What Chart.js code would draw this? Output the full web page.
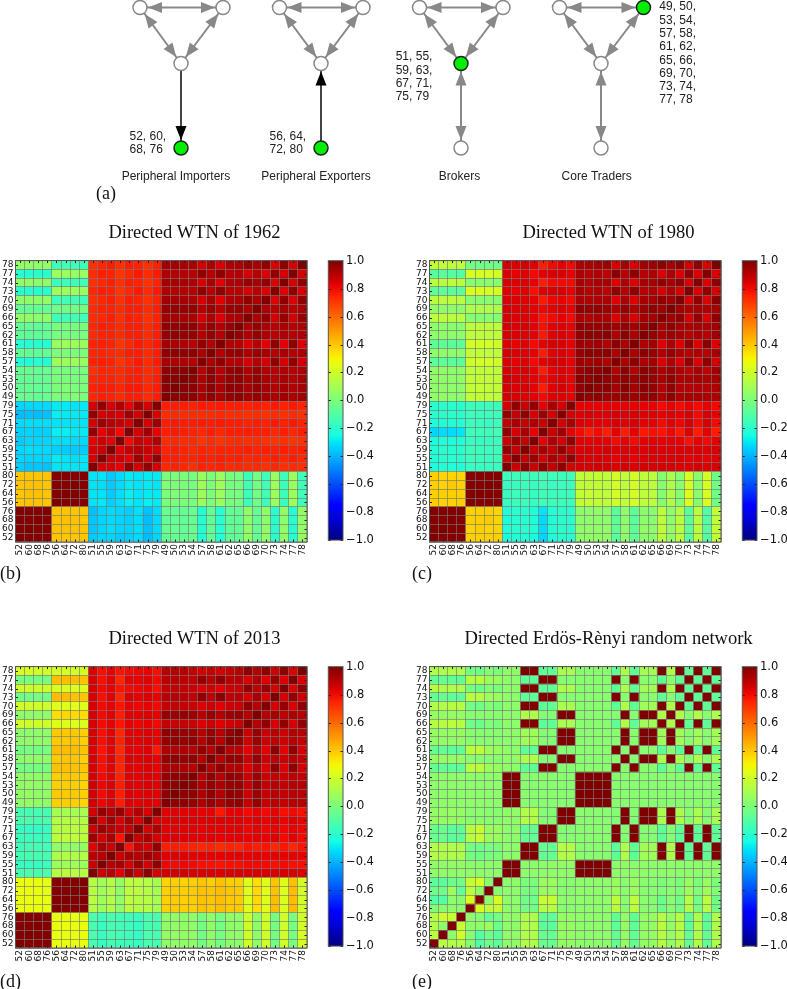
<!DOCTYPE html>
<html>
<head>
<meta charset="utf-8">
<title>Directed WTN</title>
<script src="https://cdn.jsdelivr.net/npm/chart.js@4/dist/chart.umd.min.js"></script>
<style>
html, body { margin: 0; padding: 0; background: #fff; overflow: hidden; width: 787px; height: 989px; }
canvas { position: absolute; filter: blur(0.35px); }
.tag { position: absolute; font: 18px "Liberation Serif", serif; color: #111; line-height: 20px; }
</style>
</head>
<body>
<canvas id="motifs" width="787" height="200" style="left:0px;top:0px"></canvas>

<canvas id="heat1962" width="389" height="345" style="left:0px;top:222px"></canvas>
<canvas id="bar1962" width="70" height="300" style="left:320px;top:250px"></canvas>
<canvas id="heat1980" width="389" height="345" style="left:413.5px;top:222px"></canvas>
<canvas id="bar1980" width="70" height="300" style="left:734px;top:250px"></canvas>
<canvas id="heat2013" width="389" height="345" style="left:0px;top:628px"></canvas>
<canvas id="bar2013" width="70" height="300" style="left:320px;top:656px"></canvas>
<canvas id="heatRandom" width="389" height="345" style="left:413.5px;top:628px"></canvas>
<canvas id="barRandom" width="70" height="300" style="left:734px;top:656px"></canvas>

<div class="tag" style="left:96px;top:183px">(a)</div>
<div class="tag" style="left:0px;top:563px">(b)</div>
<div class="tag" style="left:412px;top:563px">(c)</div>
<div class="tag" style="left:0px;top:971px">(d)</div>
<div class="tag" style="left:412px;top:971px">(e)</div>

<script>
// column order, bottom row first
const motifLabels = ["52","60","68","76","56","64","72","80",
    "51","55","59","63","67","71","75","79",
    "49","50","53","54","57","58","61","62","65","66","69","70","73","74","77","78"];

const colorbarTicks = [-1, -0.8, -0.6, -0.4, -0.2, 0, 0.2, 0.4, 0.6, 0.8, 1];

// upper triangles in hundredths, each row starts at its diagonal cell
const wtn1962 = [
    [100,99,99,99, 40,40,40,40, -35,-33,-33,-35,-34,-32,-38,-33, -5,-6,-6,-5,-22,-6,-21,-7,-6,5,-6,5,-20,5,-21,6],
    [100,99,99, 41,41,41,40, -36,-33,-31,-33,-33,-31,-37,-32, -5,-5,-6,-5,-22,-6,-21,-7,-6,5,-6,5,-20,5,-21,6],
    [100,99, 41,41,41,40, -36,-33,-32,-33,-34,-31,-38,-32, -6,-6,-6,-6,-21,-7,-20,-7,-7,4,-6,4,-20,4,-20,5],
    [100, 40,40,40,40, -37,-33,-32,-33,-34,-31,-37,-32, -5,-6,-6,-5,-22,-6,-21,-6,-6,5,-6,5,-20,5,-21,6],
    [100,99,99,99, -30,-29,-34,-31,-28,-30,-28,-29, 0,0,0,-1,8,0,7,-1,-1,-15,-3,-15,8,-16,8,-15],
    [100,99,99, -30,-30,-35,-31,-28,-30,-29,-29, 0,1,0,-1,8,0,8,-1,-1,-15,-2,-14,8,-15,8,-14],
    [100,99, -30,-31,-35,-32,-29,-30,-29,-30, 1,0,0,-1,8,0,8,-1,-1,-14,-2,-14,8,-15,7,-15],
    [100, -30,-30,-35,-32,-29,-30,-29,-29, 0,0,0,-1,7,0,7,-1,-1,-15,-2,-15,7,-15,7,-15],
    [100,85,85,82,97,85,97,85, 74,75,74,72,75,74,75,73,74,73,73,72,74,72,73,72],
    [100,87,87,82,95,85,97, 76,76,75,75,76,75,76,75,76,74,75,74,76,74,76,74],
    [100,83,88,90,87,85, 75,76,75,74,75,74,75,75,75,76,75,76,75,76,75,76],
    [100,80,88,85,92, 73,74,73,73,71,73,71,73,73,72,73,72,71,72,71,72],
    [100,85,95,82, 76,77,76,75,74,76,74,76,76,76,76,76,74,76,74,76],
    [100,85,95, 76,77,76,76,77,76,77,76,76,75,76,75,77,75,77,75],
    [100,85, 73,74,73,73,73,73,74,73,73,72,73,72,73,72,73,72],
    [100, 76,76,76,75,77,76,77,76,76,75,76,75,77,75,77,75],
    [100,98,98,97,93,97,93,96,97,94,96,94,92,94,92,94],
    [100,98,97,92,97,92,97,96,93,96,93,91,93,91,93],
    [100,98,92,97,92,96,97,93,96,93,91,93,91,93],
    [100,90,97,90,96,97,92,96,92,90,92,90,92],
    [100,92,97,91,91,85,91,85,97,85,97,85],
    [100,91,96,96,92,95,93,90,93,90,92],
    [100,91,91,84,90,83,97,83,97,84],
    [100,96,92,96,92,90,92,90,92],
    [100,92,96,92,90,92,91,92],
    [100,92,97,85,96,85,96],
    [100,92,90,93,90,92],
    [100,84,97,84,97],
    [100,84,97,84],
    [100,85,97],
    [100,85],
    [100]
];

const wtn1980 = [
    [100,99,99,99, 38,38,38,38, -24,-22,-22,-24,-33,-23,-20,-21, 5,5,5,5,-8,5,-7,4,4,16,5,15,-8,15,-10,17],
    [100,99,99, 37,38,37,37, -22,-21,-20,-22,-32,-22,-19,-20, 5,5,5,5,-7,5,-7,5,4,16,5,15,-7,15,-9,17],
    [100,99, 38,38,39,37, -23,-21,-21,-23,-32,-22,-20,-20, 4,4,4,4,-8,4,-8,4,3,15,4,15,-8,15,-10,16],
    [100, 38,38,38,37, -22,-20,-20,-22,-30,-21,-19,-20, 4,4,5,4,-8,4,-7,4,3,15,4,14,-8,15,-10,16],
    [100,99,99,99, -17,-16,-15,-17,-15,-16,-16,-16, 17,17,17,16,20,16,21,16,16,2,12,3,23,2,22,-3],
    [100,99,99, -17,-16,-16,-17,-15,-16,-16,-16, 17,18,17,16,21,17,21,16,16,2,12,3,23,3,22,-3],
    [100,99, -17,-17,-16,-17,-15,-17,-16,-16, 17,17,17,17,21,16,21,16,16,3,12,3,22,3,22,-3],
    [100, -16,-15,-15,-16,-14,-15,-15,-15, 16,17,17,16,20,16,20,16,16,2,11,3,22,3,21,-3],
    [100,87,97,87,97,88,97,85, 85,85,86,85,84,85,84,85,85,85,85,84,84,85,84,85],
    [100,88,95,85,93,88,97, 85,84,85,84,82,84,82,84,84,84,84,84,82,84,82,84],
    [100,88,93,88,97,87, 84,85,84,85,84,84,84,84,85,84,84,84,84,84,84,85],
    [100,82,92,85,97, 83,82,83,82,80,82,80,83,83,82,83,82,79,82,80,83],
    [100,87,95,82, 80,76,80,76,83,76,83,77,79,78,81,77,84,76,83,76],
    [100,85,93, 84,83,83,82,85,83,85,83,83,80,83,81,85,80,85,80],
    [100,85, 84,85,84,84,85,84,85,84,84,82,84,82,85,80,85,82],
    [100, 82,82,82,82,82,82,82,82,82,80,82,80,82,80,82,80],
    [100,96,98,95,95,96,95,96,97,92,97,92,93,93,92,92],
    [100,97,98,93,98,93,98,96,91,96,91,90,91,90,92],
    [100,97,95,97,95,97,96,93,97,92,92,93,92,93],
    [100,91,98,91,98,96,92,95,92,89,93,89,94],
    [100,92,98,92,94,84,92,84,97,84,98,85],
    [100,92,98,96,92,96,92,90,92,90,93],
    [100,92,94,84,92,84,97,84,98,84],
    [100,96,93,95,93,90,93,90,94],
    [100,93,97,93,92,93,92,94],
    [100,94,97,85,97,84,97],
    [100,94,92,93,92,93],
    [100,85,97,84,98],
    [100,85,97,85],
    [100,84,97],
    [100,84],
    [100]
];

const wtn2013 = [
    [100,99,99,99, 27,27,27,27, -13,-17,-14,-15,-15,-17,-12,-13, 5,5,5,5,-2,4,-2,4,4,21,4,20,-3,20,-1,22],
    [100,99,99, 27,27,27,27, -12,-17,-13,-14,-16,-18,-12,-13, 6,6,6,5,-2,5,-1,5,4,20,5,20,-2,20,-1,22],
    [100,99, 27,27,27,27, -13,-17,-13,-14,-16,-18,-13,-13, 5,5,5,5,-2,5,-2,5,4,20,5,20,-2,20,-1,21],
    [100, 26,27,26,26, -12,-16,-13,-14,-15,-17,-12,-13, 5,5,5,5,-1,5,-1,5,4,20,4,20,-2,20,-1,21],
    [100,99,99,99, 14,8,12,5,15,14,14,10, 38,39,38,38,41,39,42,39,39,24,35,24,42,23,42,21],
    [100,99,99, 15,8,13,5,16,14,14,10, 38,39,38,39,41,40,42,39,39,24,36,24,42,23,42,21],
    [100,99, 15,9,13,5,16,15,14,10, 38,39,38,39,41,40,42,40,39,24,36,25,41,24,42,21],
    [100, 14,8,13,6,15,15,13,10, 37,38,37,38,40,38,41,38,38,23,35,24,40,24,41,21],
    [100,87,90,83,95,87,98,85, 86,86,86,85,85,85,84,85,85,85,85,85,85,85,85,84],
    [100,90,93,85,95,85,97, 81,80,81,80,79,79,78,79,79,80,80,80,79,80,79,79],
    [100,87,93,90,95,90, 84,84,84,83,83,83,82,83,83,82,83,82,83,82,83,82],
    [100,78,88,85,97, 76,76,76,75,74,75,73,75,74,78,76,78,74,78,74,78],
    [100,88,93,85, 84,84,84,83,83,84,82,83,83,82,83,82,84,80,83,80],
    [100,85,92, 83,83,83,83,82,83,82,83,83,81,83,81,82,81,82,81],
    [100,85, 84,84,84,84,84,84,84,84,84,82,84,82,84,82,84,82],
    [100, 83,83,83,83,82,82,77,82,82,80,82,80,82,79,80,79],
    [100,97,97,96,92,96,92,96,97,88,96,88,90,88,90,90],
    [100,97,97,92,97,91,97,96,87,95,88,90,88,90,90],
    [100,97,92,96,92,96,96,88,96,88,90,88,90,90],
    [100,90,97,90,97,95,87,95,87,88,87,89,88],
    [100,90,97,90,91,84,91,84,97,84,97,85],
    [100,90,97,96,87,96,87,89,87,90,88],
    [100,90,90,83,91,83,98,83,97,85],
    [100,97,86,95,87,89,87,90,88],
    [100,87,96,87,90,87,91,90],
    [100,90,97,85,97,85,97],
    [100,90,93,89,92,90],
    [100,85,96,84,97],
    [100,85,96,86],
    [100,84,97],
    [100,84],
    [100]
];

const erdosRenyi = [
    [100,15,13,13, 2,-10,-3,-7, 5,5,13,13,-5,-5,6,6, 4,4,4,4,-6,6,-6,6,6,14,6,12,-6,14,-6,12],
    [100,4,20, 3,-10,-3,-8, 5,5,12,12,-5,-5,6,6, 4,4,4,4,-6,6,-6,6,6,14,6,13,-6,12,-6,12],
    [100,18, 4,4,8,-4, 5,5,12,12,-8,-8,6,6, 4,4,4,4,-7,6,-7,6,6,15,6,14,-7,12,-7,12],
    [100, 4,3,-6,-2, 5,5,12,12,-7,-7,6,6, 4,4,4,4,-7,6,-7,6,6,14,6,14,-7,12,-7,12],
    [100,22,16,18, 4,4,-2,-2,14,14,3,3, 4,4,4,4,15,3,15,3,3,-3,3,-2,14,-1,14,-2],
    [100,5,22, 4,4,-3,-3,18,18,4,4, 4,4,4,4,16,3,16,3,3,-4,3,-3,14,-3,15,-3],
    [100,3, 4,4,-1,-1,7,7,3,3, 4,4,4,4,8,3,8,3,3,1,3,1,8,1,8,1],
    [100, 4,4,0,0,7,7,3,3, 4,4,4,4,7,3,7,3,3,0,3,0,7,0,7,0],
    [100,100,4,4,4,4,5,5, 100,100,100,100,4,5,4,4,4,4,4,4,4,4,4,5],
    [100,4,4,4,4,5,5, 100,100,100,100,4,5,4,4,4,4,4,4,4,4,4,5],
    [100,100,-6,-6,13,13, 3,3,3,3,-7,12,-7,9,9,100,12,100,-7,100,-7,100],
    [100,-6,-6,13,13, 3,3,3,3,-7,13,-7,9,9,100,12,100,-7,100,-7,100],
    [100,100,2,2, 3,3,3,3,100,2,100,2,2,-7,2,-7,100,-7,100,-7],
    [100,2,2, 3,3,3,3,100,2,100,2,2,-7,2,-7,100,-7,100,-7],
    [100,100, 3,3,3,3,2,100,2,100,100,11,100,11,2,11,2,11],
    [100, 3,3,3,3,2,100,2,100,100,11,100,11,2,11,2,11],
    [100,100,100,100,3,3,3,3,3,3,3,3,3,3,3,3],
    [100,100,100,3,3,3,3,3,3,3,3,3,3,3,3],
    [100,100,3,3,3,3,3,3,3,3,3,3,3,3],
    [100,3,3,3,3,3,3,3,3,3,3,3,3],
    [100,3,100,3,3,-7,3,-7,100,-7,100,-7],
    [100,3,100,100,12,100,12,3,12,3,12],
    [100,3,3,-7,3,-7,100,-7,100,-7],
    [100,100,9,100,9,3,9,3,10],
    [100,9,100,9,3,9,3,10],
    [100,12,100,-7,100,-7,100],
    [100,12,3,12,3,12],
    [100,-7,100,-7,100],
    [100,-7,100,-7],
    [100,-7,100],
    [100,-7],
    [100]
];

// motif diagrams: one entry per diagram
const nodeLeftX = [140, 279.5, 419.5, 559.5];
const nodeRightX = [223, 363, 503, 643.5];
const nodeMiddleX = [181, 321, 461, 601];
const nodeTopY = 7.5;
const nodeMiddleY = 63.5;
const nodeBottomY = 148;
const roleNames = ["Peripheral Importers", "Peripheral Exporters", "Brokers", "Core Traders"];
const roleNameX = [176, 316, 459.5, 596.7];
const roleLabels = [
    ["52, 60,", "68, 76"],
    ["56, 64,", "72, 80"],
    ["51, 55,", "59, 63,", "67, 71,", "75, 79"],
    ["49, 50,", "53, 54,", "57, 58,", "61, 62,", "65, 66,", "69, 70,", "73, 74,", "77, 78"]
];
const roleLabelX = [129.5, 269.5, 395.7, 659.3];
const roleLabelY = [136.5, 136.5, 57, 7];

const gridColor = "rgba(120,120,120,0.65)";
const frameColor = "#555";
const gray = "#888";
const nodeRadius = 7;

function lerp(stops, t) {
    for (let i = 1; i < stops.length; i++) {
        if (t <= stops[i][0]) {
            const a = stops[i - 1], b = stops[i];
            return a[1] + (b[1] - a[1]) * (t - a[0]) / (b[0] - a[0]);
        }
    }
    return stops[stops.length - 1][1];
}

const jetR = [[0, 0], [0.35, 0], [0.66, 1], [0.89, 1], [1, 0.5]];
const jetG = [[0, 0], [0.125, 0], [0.375, 1], [0.64, 1], [0.91, 0], [1, 0]];
const jetB = [[0, 0.5], [0.11, 1], [0.34, 1], [0.65, 0], [1, 0]];

function jet(v) {
    const t = (v + 1) / 2;
    const c = [jetR, jetG, jetB].map(s => Math.round(lerp(s, t) * 255));
    return "rgb(" + c.join(",") + ")";
}

function cellValue(rows, r, c) {
    return (r <= c ? rows[r][c - r] : rows[c][r - c]) / 100;
}

// small inward ticks and the dark frame, matplotlib style
const frameTicks = {
    id: "frameTicks",
    afterDraw(chart, args, opts) {
        const { ctx, chartArea: a } = chart;
        ctx.save();
        ctx.strokeStyle = "#222";
        ctx.lineWidth = 1;
        ctx.beginPath();
        if (opts.bottomScale) {
            chart.scales[opts.bottomScale].ticks.forEach((t, i) => {
                const x = Math.round(chart.scales[opts.bottomScale].getPixelForTick(i)) + 0.5;
                ctx.moveTo(x, a.top); ctx.lineTo(x, a.top + 2.5);
                ctx.moveTo(x, a.bottom); ctx.lineTo(x, a.bottom - 2.5);
            });
        }
        chart.scales[opts.sideScale].ticks.forEach((t, i) => {
            const y = Math.round(chart.scales[opts.sideScale].getPixelForTick(i)) + 0.5;
            ctx.moveTo(a.right, y); ctx.lineTo(a.right - 2.5, y);
            ctx.moveTo(a.left, y); ctx.lineTo(a.left + 2.5, y);
        });
        ctx.stroke();
        ctx.strokeStyle = frameColor;
        ctx.strokeRect(a.left, a.top, a.right - a.left, a.bottom - a.top);
        ctx.restore();
    }
};

function heatmap(id, titleText, rows) {
    const datasets = motifLabels.map((label, r) => ({
        label: label,
        data: motifLabels.map(() => [r, r + 1]),
        backgroundColor: motifLabels.map((l, c) => jet(cellValue(rows, r, c))),
        yAxisID: "y",
        borderWidth: 0,
        barPercentage: 1,
        categoryPercentage: 1,
        grouped: false
    }));
    return new Chart(document.getElementById(id), {
        type: "bar",
        data: { labels: motifLabels, datasets: datasets },
        options: {
            responsive: false,
            animation: false,
            events: [],
            scales: {
                x: {
                    offset: true,
                    border: { display: false },
                    grid: { color: gridColor, z: 1, drawTicks: false, offset: true },
                    ticks: { autoSkip: false, minRotation: 90, maxRotation: 90, padding: 2, color: "#111",
                        font: { family: "DejaVu Sans", size: 9 } },
                    afterFit(s) { s.height = 25; }
                },
                y: {
                    position: "right",
                    min: 0,
                    max: 32,
                    border: { display: false },
                    grid: { color: gridColor, z: 1, drawTicks: false },
                    ticks: { display: false, stepSize: 1 },
                    // leaves room for the colorbar, so the title centres over both
                    afterFit(s) { s.width = 82; }
                },
                labelsY: {
                    type: "category",
                    position: "left",
                    labels: motifLabels.slice().reverse(),
                    offset: true,
                    border: { display: false },
                    grid: { display: false, drawTicks: false },
                    ticks: { autoSkip: false, padding: 2, color: "#111",
                        font: { family: "DejaVu Sans", size: 9 } },
                    afterFit(s) { s.width = 15.5; }
                }
            },
            plugins: {
                legend: { display: false },
                tooltip: { enabled: false },
                title: {
                    display: true,
                    text: titleText,
                    color: "#111",
                    font: { family: "Liberation Serif", size: 18.5, weight: "normal", lineHeight: 1.2 },
                    padding: { top: 0, bottom: 16.4 }
                },
                frameTicks: { bottomScale: "x", sideScale: "labelsY" }
            }
        },
        plugins: [frameTicks]
    });
}

function colorbar(id) {
    return new Chart(document.getElementById(id), {
        type: "bar",
        data: {
            labels: [""],
            datasets: [{
                data: [[-1, 1]],
                borderWidth: 0,
                barPercentage: 1,
                categoryPercentage: 1,
                backgroundColor(ctx) {
                    const a = ctx.chart.chartArea;
                    if (!a) return "#000";
                    const g = ctx.chart.ctx.createLinearGradient(0, a.bottom, 0, a.top);
                    for (let i = 0; i <= 40; i++) g.addColorStop(i / 40, jet(i / 20 - 1));
                    return g;
                }
            }]
        },
        options: {
            responsive: false,
            animation: false,
            events: [],
            layout: { padding: { left: 8.3, top: 10.7, bottom: 7.7 } },
            scales: {
                x: { display: false },
                y: {
                    position: "right",
                    min: -1,
                    max: 1,
                    border: { display: false },
                    grid: { display: false, drawTicks: false },
                    afterBuildTicks(s) { s.ticks = colorbarTicks.map(v => ({ value: v })); },
                    ticks: {
                        padding: 3,
                        color: "#111",
                        font: { family: "DejaVu Sans", size: 11.5 },
                        callback: v => v.toFixed(1).replace("-", "\u2212")
                    },
                    afterFit(s) { s.width = 47; }
                }
            },
            plugins: {
                legend: { display: false },
                tooltip: { enabled: false },
                frameTicks: { sideScale: "y" }
            }
        },
        plugins: [frameTicks]
    });
}

function head(ctx, sx, sy, ex, ey, color) {
    // tip stops at the rim of the target node
    const len = Math.hypot(ex - sx, ey - sy);
    const ux = (ex - sx) / len, uy = (ey - sy) / len;
    const tx = ex - ux * (nodeRadius + 1), ty = ey - uy * (nodeRadius + 1);
    const bx = tx - ux * 14, by = ty - uy * 14;
    ctx.fillStyle = color;
    ctx.beginPath();
    ctx.moveTo(tx, ty);
    ctx.lineTo(bx - uy * 5.5, by + ux * 5.5);
    ctx.lineTo(bx + uy * 5.5, by - ux * 5.5);
    ctx.closePath();
    ctx.fill();
}

const motifPlugin = {
    id: "motifPlugin",
    afterDatasetsDraw(chart) {
        const { ctx, scales: { x, y } } = chart;
        chart.data.datasets.forEach(ds => {
            if (!ds.heads) return;
            const p = ds.data.map(d => [x.getPixelForValue(d.x), y.getPixelForValue(d.y)]);
            head(ctx, p[0][0], p[0][1], p[1][0], p[1][1], ds.headColor);
            if (ds.heads === "both") head(ctx, p[1][0], p[1][1], p[0][0], p[0][1], ds.headColor);
        });
        ctx.save();
        ctx.fillStyle = "#222";
        ctx.font = "12px 'Liberation Sans'";
        ctx.textBaseline = "middle";
        ctx.textAlign = "center";
        roleNames.forEach((name, i) => ctx.fillText(name, x.getPixelForValue(roleNameX[i]), y.getPixelForValue(177)));
        ctx.textAlign = "left";
        roleLabels.forEach((lines, i) => lines.forEach((line, k) => {
            ctx.fillText(line, x.getPixelForValue(roleLabelX[i]), y.getPixelForValue(roleLabelY[i] + k * 13.3));
        }));
        ctx.restore();
    }
};

function edge(x1, y1, x2, y2, color, heads) {
    return {
        type: "scatter",
        showLine: true,
        data: [{ x: x1, y: y1 }, { x: x2, y: y2 }],
        borderColor: color,
        borderWidth: 2,
        pointRadius: 0,
        heads: heads,
        headColor: color === gray ? gray : "#000"
    };
}

function motifs() {
    const nodesPlain = [], nodesGreen = [], edges = [];
    nodeLeftX.forEach((lx, i) => {
        const rx = nodeRightX[i], mx = nodeMiddleX[i];
        const nodes = [{ x: lx, y: nodeTopY }, { x: rx, y: nodeTopY }, { x: mx, y: nodeMiddleY }, { x: mx, y: nodeBottomY }];
        const green = [3, 3, 2, 1][i];
        nodes.forEach((n, k) => (k === green ? nodesGreen : nodesPlain).push(n));
        edges.push(edge(lx, nodeTopY, rx, nodeTopY, gray, "both"));
        edges.push(edge(lx, nodeTopY, mx, nodeMiddleY, gray, "both"));
        edges.push(edge(rx, nodeTopY, mx, nodeMiddleY, gray, "both"));
        if (i === 0) edges.push(edge(mx, nodeMiddleY, mx, nodeBottomY, "#444", "end"));
        else if (i === 1) edges.push(edge(mx, nodeBottomY, mx, nodeMiddleY, "#444", "end"));
        else edges.push(edge(mx, nodeMiddleY, mx, nodeBottomY, gray, "both"));
    });
    const dots = (data, fill, stroke) => ({
        type: "scatter",
        data: data,
        pointRadius: nodeRadius,
        pointBackgroundColor: fill,
        pointBorderColor: stroke,
        pointBorderWidth: 1.5
    });
    return new Chart(document.getElementById("motifs"), {
        type: "scatter",
        data: { datasets: [dots(nodesGreen, "#00ee00", "#222"), dots(nodesPlain, "#fff", gray)].concat(edges) },
        options: {
            responsive: false,
            animation: false,
            events: [],
            clip: false,
            layout: { padding: 0, autoPadding: false },
            scales: {
                x: { display: false, min: 0, max: 787 },
                y: { display: false, min: 0, max: 200, reverse: true }
            },
            plugins: { legend: { display: false }, tooltip: { enabled: false } }
        },
        plugins: [motifPlugin]
    });
}

motifs();
heatmap("heat1962", "Directed WTN of 1962", wtn1962);
colorbar("bar1962");
heatmap("heat1980", "Directed WTN of 1980", wtn1980);
colorbar("bar1980");
heatmap("heat2013", "Directed WTN of 2013", wtn2013);
colorbar("bar2013");
heatmap("heatRandom", "Directed Erd\u00f6s-R\u00e8nyi random network", erdosRenyi);
colorbar("barRandom");
</script>
</body>
</html>
